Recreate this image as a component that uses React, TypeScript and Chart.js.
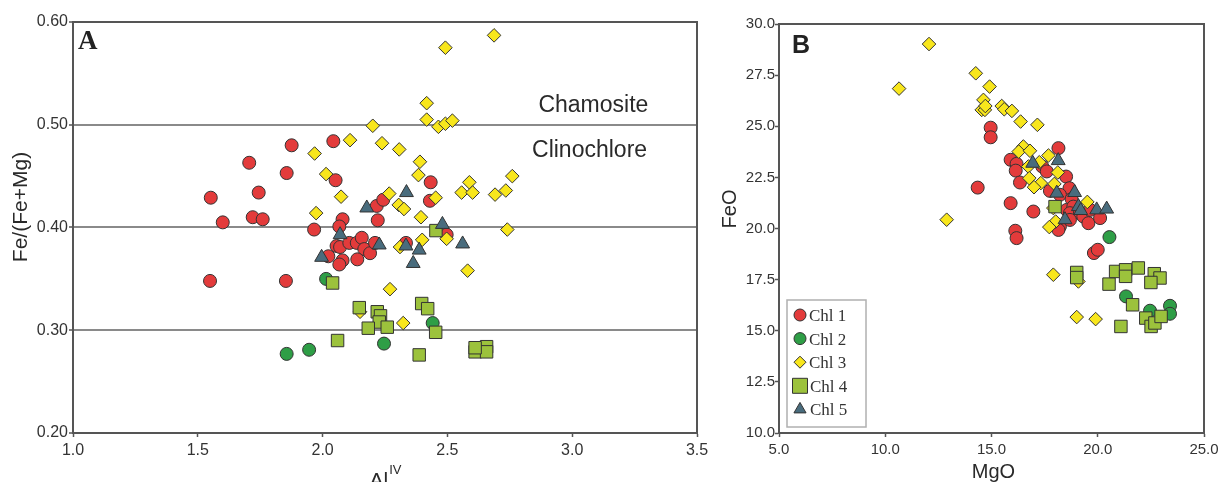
import React, { useEffect, useRef } from 'react';
import { Chart, registerables } from 'chart.js';

Chart.register(...registerables);

const SANS = '"Liberation Sans", Arial, sans-serif';
const SERIF = '"Liberation Serif", "Times New Roman", serif';

// ---------- Panel A : Fe/(Fe+Mg) vs Al(IV) ----------
const aChl1X = [1.552, 1.600, 1.706, 1.744, 1.720, 1.760, 1.856, 1.876, 2.043, 2.052, 1.549, 1.853, 1.966, 2.080, 2.067, 2.217, 2.243, 2.221, 2.023, 2.056, 2.070, 2.107, 2.137, 2.157, 2.167, 2.190, 2.210, 2.139, 2.080, 2.067, 2.334, 2.433, 2.430, 2.497];
const aChl1Y = [0.429, 0.405, 0.463, 0.434, 0.410, 0.408, 0.453, 0.480, 0.484, 0.446, 0.348, 0.348, 0.398, 0.408, 0.401, 0.421, 0.427, 0.407, 0.372, 0.382, 0.381, 0.385, 0.385, 0.390, 0.379, 0.375, 0.385, 0.369, 0.368, 0.364, 0.385, 0.444, 0.426, 0.393];
const aChl2X = [1.856, 1.946, 2.246, 2.014, 2.441];
const aChl2Y = [0.277, 0.281, 0.287, 0.350, 0.307];
const aChl3X = [2.201, 2.110, 2.238, 2.307, 1.968, 2.014, 2.074, 2.267, 2.305, 2.326, 1.974, 2.270, 2.150, 2.323, 2.310, 2.687, 2.492, 2.417, 2.417, 2.464, 2.492, 2.520, 2.390, 2.384, 2.453, 2.394, 2.399, 2.497, 2.588, 2.557, 2.601, 2.691, 2.734, 2.760, 2.740, 2.581];
const aChl3Y = [0.499, 0.485, 0.482, 0.476, 0.472, 0.452, 0.430, 0.433, 0.422, 0.418, 0.414, 0.340, 0.318, 0.307, 0.381, 0.587, 0.575, 0.521, 0.505, 0.498, 0.501, 0.504, 0.464, 0.451, 0.429, 0.410, 0.388, 0.389, 0.444, 0.434, 0.434, 0.432, 0.436, 0.450, 0.398, 0.358];
const aChl4X = [2.040, 2.060, 2.147, 2.219, 2.232, 2.227, 2.183, 2.259, 2.387, 2.397, 2.421, 2.453, 2.454, 2.611, 2.657, 2.657, 2.611];
const aChl4Y = [0.346, 0.290, 0.322, 0.318, 0.314, 0.308, 0.302, 0.303, 0.276, 0.326, 0.321, 0.298, 0.397, 0.279, 0.284, 0.279, 0.283];
const aChl5X = [1.996, 2.070, 2.177, 2.227, 2.336, 2.334, 2.363, 2.387, 2.480, 2.561];
const aChl5Y = [0.371, 0.393, 0.419, 0.383, 0.434, 0.382, 0.365, 0.378, 0.403, 0.384];

// ---------- Panel B : FeO vs MgO ----------
const bChl1X = [14.96, 14.96, 14.35, 18.15, 15.90, 16.18, 16.14, 16.34, 17.39, 17.60, 18.51, 17.75, 18.67, 18.22, 15.90, 16.97, 16.12, 16.18, 18.77, 18.54, 18.85, 18.69, 19.16, 19.32, 19.56, 20.11, 19.64, 18.22, 18.69, 18.15, 19.82, 20.00];
const bChl1Y = [24.93, 24.46, 22.00, 23.93, 23.36, 23.16, 22.83, 22.25, 23.03, 22.79, 22.54, 21.84, 21.97, 21.65, 21.24, 20.83, 19.89, 19.53, 21.44, 20.91, 21.07, 20.75, 20.75, 20.59, 20.26, 20.51, 20.91, 20.10, 20.42, 19.93, 18.80, 18.96];
const bChl2X = [20.55, 21.33, 22.46, 23.40, 23.40];
const bChl2Y = [19.58, 16.68, 15.98, 16.22, 15.83];
const bChl3X = [12.06, 10.65, 14.26, 14.91, 14.62, 14.54, 14.69, 14.71, 15.48, 15.60, 15.96, 16.37, 17.16, 12.89, 16.50, 16.28, 16.81, 17.68, 17.25, 16.73, 16.78, 17.32, 17.00, 18.12, 17.96, 19.51, 17.91, 18.02, 17.72, 17.91, 19.09, 19.01, 19.90];
const bChl3Y = [29.02, 26.84, 27.59, 26.94, 26.29, 25.80, 25.80, 25.99, 25.99, 25.83, 25.75, 25.23, 25.07, 20.43, 24.01, 23.76, 23.80, 23.57, 23.24, 23.03, 22.46, 22.22, 22.02, 22.74, 22.18, 21.30, 21.00, 20.34, 20.07, 17.74, 17.41, 15.67, 15.57];
const bChl4X = [19.01, 19.01, 20.53, 20.84, 21.31, 21.31, 21.91, 21.64, 21.09, 22.66, 22.93, 22.50, 22.26, 22.51, 22.69, 22.98, 17.99];
const bChl4Y = [17.85, 17.60, 17.28, 17.90, 17.98, 17.66, 18.07, 16.27, 15.21, 17.79, 17.58, 17.36, 15.62, 15.21, 15.38, 15.70, 21.07];
const bChl5X = [16.94, 18.14, 18.07, 18.91, 19.09, 19.20, 19.95, 20.42, 18.46];
const bChl5Y = [23.19, 23.32, 21.73, 21.76, 21.07, 20.88, 20.91, 20.95, 20.43];

const seriesNames = ['Chl 1', 'Chl 2', 'Chl 3', 'Chl 4', 'Chl 5'];
const fillColors = ['#e33b3b', '#2e9e46', '#f8e61c', '#9cc23c', '#496c7d'];
const pointStyles = ['circle', 'circle', 'rectRot', 'rect', 'triangle'];
const radii = [6.5, 6.5, 6.8, 8.8, 8];

const aTicksX = [1.0, 1.5, 2.0, 2.5, 3.0, 3.5];
const aTicksY = [0.2, 0.3, 0.4, 0.5, 0.6];
const bTicksX = [5, 10, 15, 20, 25];
const bTicksY = [10, 12.5, 15, 17.5, 20, 22.5, 25, 27.5, 30];

function makeDatasets(xs: number[][], ys: number[][]) {
  return xs.map((xArr, i) => ({
    label: seriesNames[i],
    data: xArr.map((x, j) => ({ x, y: ys[i][j] })),
    backgroundColor: fillColors[i],
    borderColor: '#333333',
    borderWidth: 1,
    pointStyle: pointStyles[i],
    pointRadius: radii[i],
    pointHoverRadius: radii[i],
    order: 4 - i,
  }));
}

const frameColor = '#555555';
const tickFontColor = '#333333';

function frameAndText(id: string, draw: (chart: any, ctx: CanvasRenderingContext2D) => void) {
  return {
    id,
    beforeDatasetsDraw(chart: any) {
      const { ctx, chartArea: ca } = chart;
      ctx.save();
      ctx.strokeStyle = frameColor;
      ctx.lineWidth = 2;
      ctx.strokeRect(ca.left, ca.top, ca.right - ca.left, ca.bottom - ca.top);
      ctx.restore();
    },
    afterDraw(chart: any) {
      const ctx = chart.ctx as CanvasRenderingContext2D;
      ctx.save();
      draw(chart, ctx);
      ctx.restore();
    },
  };
}

function drawMarker(ctx: CanvasRenderingContext2D, style: string, x: number, y: number, r: number, fill: string) {
  ctx.beginPath();
  if (style === 'circle') {
    ctx.arc(x, y, r, 0, Math.PI * 2);
  } else if (style === 'rectRot') {
    ctx.moveTo(x - r, y);
    ctx.lineTo(x, y - r);
    ctx.lineTo(x + r, y);
    ctx.lineTo(x, y + r);
    ctx.closePath();
  } else if (style === 'rect') {
    ctx.rect(x - r, y - r, 2 * r, 2 * r);
  } else {
    const h = r * 1.732;
    ctx.moveTo(x, y - r);
    ctx.lineTo(x + h / 2, y + r * 0.5);
    ctx.lineTo(x - h / 2, y + r * 0.5);
    ctx.closePath();
  }
  ctx.fillStyle = fill;
  ctx.fill();
  ctx.strokeStyle = '#333';
  ctx.lineWidth = 1;
  ctx.stroke();
}

function ChartA() {
  const ref = useRef<HTMLCanvasElement | null>(null);
  useEffect(() => {
    if (!ref.current) return;
    const plugin = frameAndText('textA', (chart, ctx) => {
      const sx = chart.scales.x;
      const sy = chart.scales.y;
      const ca = chart.chartArea;
      ctx.fillStyle = '#222';
      ctx.font = `bold 27px ${SERIF}`;
      ctx.textAlign = 'left';
      ctx.textBaseline = 'alphabetic';
      ctx.fillText('A', ca.left + 5, ca.top + 27);
      ctx.fillStyle = '#2a2a2a';
      ctx.font = `23px ${SANS}`;
      ctx.textAlign = 'right';
      ctx.fillText('Chamosite', sx.getPixelForValue(3.305), sy.getPixelForValue(0.512));
      ctx.fillText('Clinochlore', sx.getPixelForValue(3.3), sy.getPixelForValue(0.469));
      // y title
      ctx.save();
      ctx.translate(21, 207);
      ctx.rotate(-Math.PI / 2);
      ctx.textAlign = 'center';
      ctx.textBaseline = 'middle';
      ctx.font = `21px ${SANS}`;
      ctx.fillText('Fe/(Fe+Mg)', 0, 0);
      ctx.restore();
      // x title Al^IV
      const cx = (ca.left + ca.right) / 2;
      ctx.textAlign = 'left';
      ctx.textBaseline = 'alphabetic';
      ctx.font = `21px ${SANS}`;
      const w1 = ctx.measureText('Al').width;
      ctx.font = `13px ${SANS}`;
      const w2 = ctx.measureText('IV').width;
      const x0 = cx - (w1 + w2) / 2;
      ctx.font = `21px ${SANS}`;
      ctx.fillText('Al', x0, 487);
      ctx.font = `13px ${SANS}`;
      ctx.fillText('IV', x0 + w1 + 1, 474);
    });
    const chart = new Chart(ref.current, {
      type: 'scatter',
      data: {
        datasets: makeDatasets(
          [aChl1X, aChl2X, aChl3X, aChl4X, aChl5X],
          [aChl1Y, aChl2Y, aChl3Y, aChl4Y, aChl5Y]
        ) as any,
      },
      options: {
        animation: false,
        responsive: false,
        events: [],
        layout: { padding: { left: 0, right: 18, top: 22, bottom: 0 } },
        plugins: { legend: { display: false }, tooltip: { enabled: false } },
        scales: {
          x: {
            type: 'linear',
            min: 1,
            max: 3.5,
            afterFit: (s: any) => { s.height = 49; },
            afterBuildTicks: (s: any) => { s.ticks = aTicksX.map((v) => ({ value: v })); },
            ticks: {
              callback: (v: any) => Number(v).toFixed(1),
              font: { family: SANS, size: 16 },
              color: tickFontColor,
              padding: 4,
              maxRotation: 0,
            },
            grid: { drawOnChartArea: false, drawTicks: true, tickLength: 4, tickColor: frameColor, tickWidth: 1.5 },
            border: { color: frameColor, width: 2 },
          },
          y: {
            type: 'linear',
            min: 0.2,
            max: 0.6,
            afterFit: (s: any) => { s.width = 73; },
            afterBuildTicks: (s: any) => { s.ticks = aTicksY.map((v) => ({ value: v })); },
            ticks: {
              callback: (v: any) => Number(v).toFixed(2),
              font: { family: SANS, size: 16 },
              color: tickFontColor,
              padding: 1,
            },
            grid: {
              drawTicks: true,
              tickLength: 4,
              tickColor: frameColor,
              tickWidth: 1.5,
              lineWidth: 2,
              color: (c: any) => {
                const v = c.tick ? c.tick.value : 0;
                return Math.abs(v - 0.2) < 1e-6 || Math.abs(v - 0.6) < 1e-6 ? 'rgba(0,0,0,0)' : '#8a8a8a';
              },
            },
            border: { color: frameColor, width: 2 },
          },
        },
      } as any,
      plugins: [plugin],
    });
    return () => chart.destroy();
  }, []);
  return <canvas ref={ref} width={715} height={482} style={{ position: 'absolute', left: 0, top: 0, display: 'block' }} />;
}

function ChartB() {
  const ref = useRef<HTMLCanvasElement | null>(null);
  useEffect(() => {
    if (!ref.current) return;
    const plugin = frameAndText('textB', (chart, ctx) => {
      const ca = chart.chartArea;
      ctx.fillStyle = '#222';
      ctx.font = `bold 25px ${SANS}`;
      ctx.textAlign = 'left';
      ctx.textBaseline = 'alphabetic';
      ctx.fillText('B', ca.left + 13, ca.top + 29);
      // y title
      ctx.fillStyle = '#2a2a2a';
      ctx.save();
      ctx.translate(15, 209);
      ctx.rotate(-Math.PI / 2);
      ctx.textAlign = 'center';
      ctx.textBaseline = 'middle';
      ctx.font = `20px ${SANS}`;
      ctx.fillText('FeO', 0, 0);
      ctx.restore();
      // x title
      ctx.textAlign = 'center';
      ctx.font = `20px ${SANS}`;
      ctx.fillText('MgO', (ca.left + ca.right) / 2 + 2, 478);
      // legend
      const lx = ca.left + 8;
      const ly = 300;
      ctx.fillStyle = '#fff';
      ctx.fillRect(lx, ly, 79, 127);
      ctx.strokeStyle = '#b0b0b0';
      ctx.lineWidth = 1.5;
      ctx.strokeRect(lx, ly, 79, 127);
      const legR = [6, 6, 6, 7.5, 7];
      seriesNames.forEach((name, i) => {
        const yy = ly + 15 + i * 23.6;
        drawMarker(ctx, pointStyles[i], lx + 13, yy, legR[i], fillColors[i]);
        ctx.fillStyle = '#333';
        ctx.font = `17px ${SERIF}`;
        ctx.textAlign = 'left';
        ctx.textBaseline = 'alphabetic';
        ctx.fillText(name, lx + 22 + (i >= 3 ? 1 : 0), yy + 6);
      });
    });
    const chart = new Chart(ref.current, {
      type: 'scatter',
      data: {
        datasets: makeDatasets(
          [bChl1X, bChl2X, bChl3X, bChl4X, bChl5X],
          [bChl1Y, bChl2Y, bChl3Y, bChl4Y, bChl5Y]
        ) as any,
      },
      options: {
        animation: false,
        responsive: false,
        events: [],
        layout: { padding: { left: 0, right: 21, top: 24, bottom: 0 } },
        plugins: { legend: { display: false }, tooltip: { enabled: false } },
        scales: {
          x: {
            type: 'linear',
            min: 5,
            max: 25,
            afterFit: (s: any) => { s.height = 49; },
            afterBuildTicks: (s: any) => { s.ticks = bTicksX.map((v) => ({ value: v })); },
            ticks: {
              callback: (v: any) => Number(v).toFixed(1),
              font: { family: SANS, size: 15 },
              color: tickFontColor,
              padding: 4,
              maxRotation: 0,
            },
            grid: { drawOnChartArea: false, drawTicks: true, tickLength: 4, tickColor: frameColor, tickWidth: 1.5 },
            border: { color: frameColor, width: 2 },
          },
          y: {
            type: 'linear',
            min: 10,
            max: 30,
            afterFit: (s: any) => { s.width = 64; },
            afterBuildTicks: (s: any) => { s.ticks = bTicksY.map((v) => ({ value: v })); },
            ticks: {
              callback: (v: any) => Number(v).toFixed(1),
              font: { family: SANS, size: 15 },
              color: tickFontColor,
              padding: 0,
            },
            grid: { drawOnChartArea: false, drawTicks: true, tickLength: 4, tickColor: frameColor, tickWidth: 1.5 },
            border: { color: frameColor, width: 2 },
          },
        },
      } as any,
      plugins: [plugin],
    });
    return () => chart.destroy();
  }, []);
  return <canvas ref={ref} width={510} height={482} style={{ position: 'absolute', left: 715, top: 0, display: 'block' }} />;
}

export default function App() {
  return (
    <div style={{ position: 'fixed', left: 0, top: 0, width: 1225, height: 482, background: '#fff', overflow: 'hidden' }}>
      <ChartA />
      <ChartB />
    </div>
  );
}
